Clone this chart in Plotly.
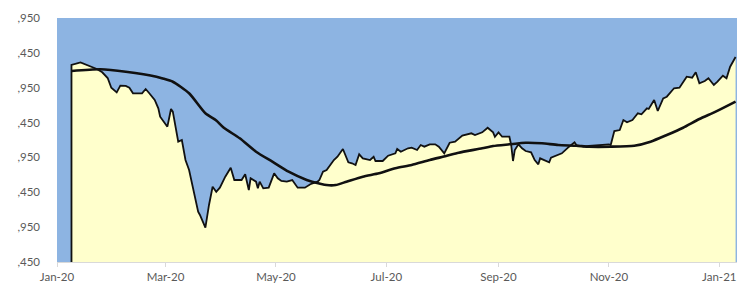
import plotly.graph_objects as go

# ---- data ----
price_dates = [
    "2020-01-09","2020-01-14","2020-01-21","2020-01-23","2020-01-26","2020-01-29","2020-01-31",
    "2020-02-03","2020-02-05","2020-02-08","2020-02-10","2020-02-12","2020-02-17","2020-02-19",
    "2020-02-21","2020-02-24","2020-02-26","2020-02-27","2020-03-02","2020-03-04","2020-03-05",
    "2020-03-08","2020-03-10","2020-03-12","2020-03-14","2020-03-17","2020-03-19","2020-03-20",
    "2020-03-23","2020-03-25","2020-03-27","2020-03-29","2020-03-31","2020-04-03","2020-04-06",
    "2020-04-08","2020-04-12","2020-04-14","2020-04-16","2020-04-17","2020-04-20","2020-04-21",
    "2020-04-22","2020-04-24","2020-04-27","2020-04-30","2020-05-02","2020-05-04","2020-05-07",
    "2020-05-10","2020-05-13","2020-05-17","2020-05-20","2020-05-24","2020-05-25","2020-05-27",
    "2020-05-29","2020-06-02","2020-06-04","2020-06-07","2020-06-10","2020-06-12","2020-06-14",
    "2020-06-16","2020-06-18","2020-06-22","2020-06-24","2020-06-25","2020-06-29","2020-07-02",
    "2020-07-06","2020-07-07","2020-07-09","2020-07-13","2020-07-15","2020-07-18","2020-07-20",
    "2020-07-22","2020-07-25","2020-07-28","2020-07-30","2020-08-02","2020-08-05","2020-08-08",
    "2020-08-12","2020-08-17","2020-08-19","2020-08-23","2020-08-26","2020-08-29","2020-08-30",
    "2020-09-01","2020-09-03","2020-09-07","2020-09-08","2020-09-09","2020-09-10","2020-09-12",
    "2020-09-14","2020-09-16","2020-09-19","2020-09-21","2020-09-23","2020-09-24","2020-09-27",
    "2020-09-29","2020-09-30","2020-10-03","2020-10-06","2020-10-10","2020-10-13","2020-10-14",
    "2020-10-18","2020-10-21","2020-10-24","2020-10-27","2020-11-01","2020-11-02","2020-11-04",
    "2020-11-07","2020-11-09","2020-11-11","2020-11-14","2020-11-17","2020-11-19","2020-11-22",
    "2020-11-23","2020-11-26","2020-11-28","2020-12-01","2020-12-03","2020-12-07","2020-12-10",
    "2020-12-14","2020-12-17","2020-12-19","2020-12-21","2020-12-24","2020-12-26","2020-12-29",
    "2020-12-31","2021-01-03","2021-01-05","2021-01-07","2021-01-09","2021-01-10",
]
price_values = [
    5276, 5314, 5237, 5218, 5171, 5089, 4950,
    4884, 4979, 4975, 4950, 4870, 4870, 4931,
    4870, 4774, 4655, 4534, 4391, 4645, 4606,
    4176, 4200, 3913, 3770, 3411, 3171, 3124,
    2942, 3268, 3530, 3458, 3516, 3674, 3803,
    3626, 3626, 3708, 3483, 3651, 3602, 3507,
    3602, 3507, 3516, 3722, 3651, 3612, 3602,
    3626, 3516, 3516, 3565, 3602, 3626, 3745,
    3770, 3913, 3960, 4071, 3880, 3866, 3841,
    3995, 3937, 3913, 3960, 3899, 3899, 3975,
    4009, 4071, 4032, 4081, 4090, 4057, 4128,
    4104, 4138, 4138, 4104, 4009, 4161, 4176,
    4262, 4296, 4272, 4310, 4376, 4310, 4247,
    4310, 4247, 4247, 4128, 3899, 4057, 4138,
    4081, 4042, 4024, 3913, 3851, 3937, 3899,
    3880, 3946, 3975, 4009, 4104, 4167, 4128,
    4104, 4114, 4118, 4128, 4138, 4128, 4329,
    4343, 4487, 4454, 4487, 4583, 4569, 4655,
    4645, 4774, 4616, 4798, 4821, 4942, 4950,
    5108, 5094, 5171, 5013, 5046, 5085, 4989,
    5036, 5122, 5085, 5251, 5347, 5391,
]

ma_dates = [
    "2020-01-09","2020-01-25","2020-02-08","2020-02-25","2020-02-28","2020-03-05","2020-03-14",
    "2020-03-23","2020-03-29","2020-04-02","2020-04-11","2020-04-20","2020-04-29","2020-05-08",
    "2020-05-18","2020-05-21","2020-05-29","2020-06-03","2020-06-09","2020-06-18","2020-06-27",
    "2020-07-06","2020-07-15","2020-07-25","2020-08-03","2020-08-10","2020-08-23","2020-08-29",
    "2020-09-07","2020-09-16","2020-09-25","2020-10-04","2020-10-14","2020-10-21","2020-11-02",
    "2020-11-15","2020-11-24","2020-12-03","2020-12-12","2020-12-21","2020-12-30","2021-01-10",
]
ma_values = [
    5190, 5214, 5180, 5108, 5085, 5036, 4870,
    4583, 4480, 4380, 4224, 4032, 3889, 3745,
    3626, 3602, 3554, 3554, 3602, 3674, 3722,
    3794, 3841, 3913, 3970, 4018, 4081, 4114,
    4138, 4161, 4153, 4128, 4118, 4104, 4104,
    4118, 4176, 4272, 4376, 4501, 4606, 4750,
]

y_tickvals = [2450, 2950, 3450, 3950, 4450, 4950, 5450, 5950]
y_ticktext = [",450", ",950", ",450", ",950", ",450", ",950", ",450", ",950"]
x_tickvals = ["2020-01-01", "2020-03-01", "2020-05-01", "2020-07-01",
              "2020-09-01", "2020-11-01", "2021-01-01"]
x_ticktext = ["Jan-20", "Mar-20", "May-20", "Jul-20", "Sep-20", "Nov-20", "Jan-21"]

y_min = y_tickvals[0]
y_max = y_tickvals[-1]

fig = go.Figure()

# price area (outline drops to the axis at the first date, as in an area chart)
fig.add_trace(go.Scatter(
    x=[price_dates[0]] + price_dates,
    y=[y_min] + price_values,
    mode="lines",
    fill="tozeroy",
    fillcolor="#FFFFCC",
    line=dict(color="#111111", width=1.8),
    hoverinfo="skip",
    showlegend=False,
))

# moving average
fig.add_trace(go.Scatter(
    x=ma_dates,
    y=ma_values,
    mode="lines",
    line=dict(color="#111111", width=2.6, shape="spline", smoothing=0.6),
    hoverinfo="skip",
    showlegend=False,
))

tick_font = dict(family="Lato, 'Open Sans', sans-serif", size=11.5, color="#595959")

fig.update_layout(
    width=737,
    height=286,
    margin=dict(l=57, r=0, t=18, b=24),
    paper_bgcolor="white",
    plot_bgcolor="#8DB4E2",
    showlegend=False,
    xaxis=dict(
        type="date",
        range=["2020-01-01", "2021-01-10 19:00"],
        tickvals=x_tickvals,
        ticktext=x_ticktext,
        tickfont=tick_font,
        showgrid=False,
        zeroline=False,
        showline=True,
        linecolor="#D9D9D9",
        linewidth=1,
        ticks="outside",
        ticklen=4,
        tickcolor="#D9D9D9",
    ),
    yaxis=dict(
        range=[y_min, y_max],
        tickvals=y_tickvals,
        ticktext=y_ticktext,
        tickfont=tick_font,
        showgrid=False,
        zeroline=False,
        showline=False,
        ticks="",
        ticklabelstandoff=16,
    ),
)

fig.write_html(
    "out.html",
    config={"displayModeBar": False},
    post_script="document.body.style.margin='0';document.body.style.overflow='hidden';",
)
